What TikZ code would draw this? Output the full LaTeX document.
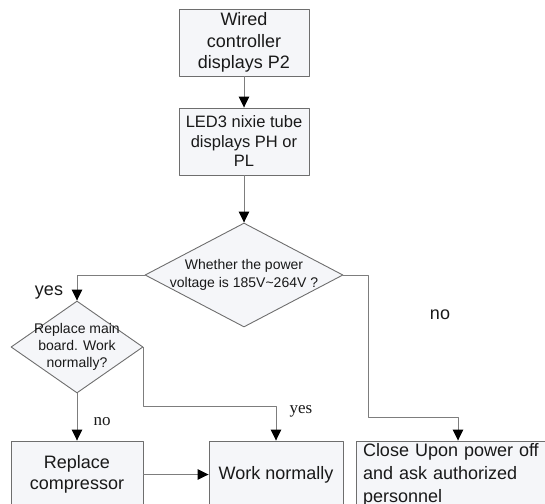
\documentclass[tikz,border=0pt]{standalone}
\usepackage{fontspec}
\setmainfont{Liberation Sans}
\newfontfamily\timesfont{Liberation Serif}
\usetikzlibrary{shapes.geometric,arrows.meta}
\definecolor{boxfill}{RGB}{245,246,249}
\definecolor{edgegray}{RGB}{110,110,110}
\definecolor{linkgray}{RGB}{125,125,125}
\definecolor{txt}{RGB}{25,25,25}
\begin{document}
\begin{tikzpicture}[x=1pt,y=-1pt,line join=round,
	box/.style={draw=edgegray,fill=boxfill,line width=0.9pt,minimum height=67pt,inner sep=2pt,align=center,text=txt},
	decision/.style={diamond,draw=edgegray,fill=boxfill,line width=0.9pt,inner sep=0pt},
	dtext/.style={align=center,text=txt,inner sep=0pt,font=\fontsize{14}{17.5}\selectfont},
	link/.style={draw=linkgray,line width=0.9pt,-{Triangle[length=11pt,width=10.5pt,color=black]}},
	tag/.style={text=txt,inner sep=0pt,anchor=base}]
	\useasboundingbox (0,0) rectangle (545,503);
	\clip (0,0) rectangle (545,503);
	% boxes and decisions
	\node[box,minimum width=130pt,font=\fontsize{18}{21.5}\selectfont] (wired) at (244,42.5) {Wired\\controller\\displays P2};
	\node[box,minimum width=130pt,font=\fontsize{16.5}{19.5}\selectfont] (led) at (244,141.5) {LED3 nixie tube\\displays PH or\\PL};
	\node[decision,minimum width=198pt,minimum height=104pt] (volt) at (244,275) {};
	\node[dtext] (volt text) at (volt) {Whether the power\\voltage is 185V\textasciitilde264V ?};
	\node[decision,minimum width=132pt,minimum height=92pt] (board) at (77,347) {};
	\node[dtext,font=\fontsize{14}{17}\selectfont] (board text) at (board) {Replace main\\board. Work\\normally?};
	\node[box,minimum width=132pt,font=\fontsize{18}{21.5}\selectfont] (comp) at (77,474.5) {Replace\\compressor};
	\node[box,minimum width=134pt,font=\fontsize{18}{21.5}\selectfont] (work) at (276,474.5) {Work normally};
	\node[box,minimum width=204pt,text width=190pt,align=left,font=\fontsize{18}{23}\selectfont] (close) at (458,474.5) {Close Upon power off\\and ask authorized\\personnel};
	% connectors
	\draw[link] (wired) -- (led);
	\draw[link] (led) -- (volt);
	\draw[link] (volt.west) -| (board.north);
	\draw[link] (board.south) -- (comp.north);
	\draw[link] (board.east) -- ++(0,59) -| (work.north);
	\draw[link] (volt.east) -- ++(25,0) -- ++(0,142) -| (close.north);
	\draw[link] (comp) -- (work);
	% branch labels
	\node[tag,font=\fontsize{18}{20}\selectfont] (yes left) at (49,295) {yes};
	\node[tag,font=\fontsize{18}{20}\selectfont] (no right) at (440,319) {no};
	\node[tag,font=\timesfont\fontsize{17}{20}\selectfont] (no left) at (102,425) {no};
	\node[tag,font=\timesfont\fontsize{17}{20}\selectfont] (yes right) at (301,413) {yes};
\end{tikzpicture}
\end{document}
